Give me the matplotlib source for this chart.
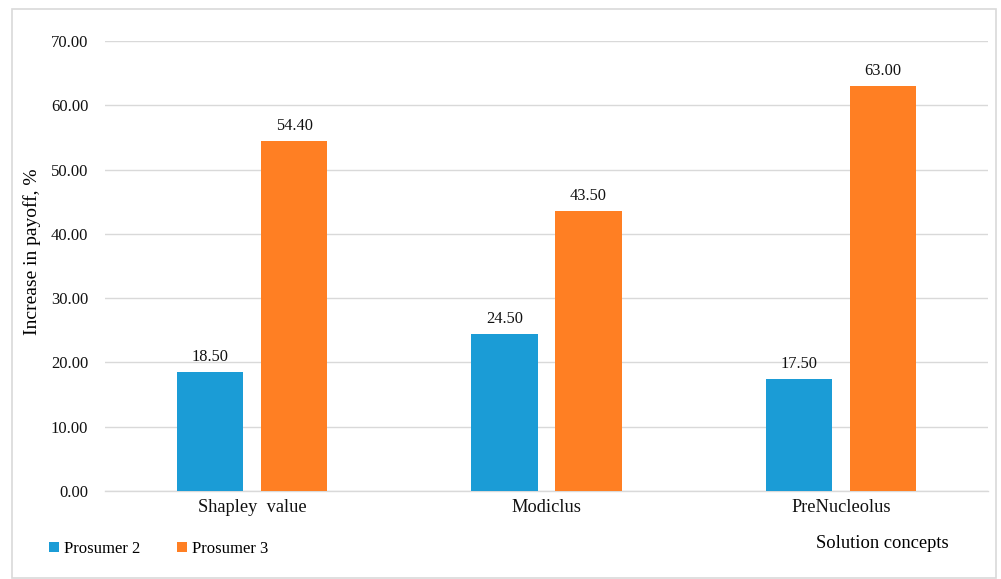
import matplotlib
matplotlib.use("Agg")
import matplotlib.pyplot as plt
import numpy as np
from matplotlib.patches import Rectangle

categories = ["Shapley  value", "Modiclus", "PreNucleolus"]
prosumer2 = [18.50, 24.50, 17.50]
prosumer3 = [54.40, 43.50, 63.00]
series_names = ["Prosumer 2", "Prosumer 3"]
yticks = [0, 10, 20, 30, 40, 50, 60, 70]

plt.rcParams['font.family'] = ['Liberation Serif', 'DejaVu Serif']

fig = plt.figure(figsize=(10.01, 5.79), dpi=100)
fig.patches.append(Rectangle((12/1001, 1/579), 984/1001, 569/579, transform=fig.transFigure,
                             fill=False, edgecolor='#D9D9D9', linewidth=1.2))
ax = fig.add_axes([105/1001, 1-491/579, 883/1001, 450/579])

x = np.arange(len(categories))
w = 0.225
off = 0.143
c2 = '#1B9CD6'
c3 = '#FF7F23'
b2 = ax.bar(x - off, prosumer2, w, color=c2, label=series_names[0], zorder=3)
b3 = ax.bar(x + off, prosumer3, w, color=c3, label=series_names[1], zorder=3)
for bars, vals in ((b2, prosumer2), (b3, prosumer3)):
    for b, v in zip(bars, vals):
        ax.annotate(f"{v:.2f}", (b.get_x() + b.get_width()/2, v), xytext=(0, 5),
                    textcoords='offset points', ha='center', va='bottom', fontsize=11.8, color='#111111')

ax.set_xlim(-0.5, 2.5)
ax.set_ylim(0, 70)
ax.set_yticks(yticks)
ax.set_yticklabels([f"{t:.2f}" for t in yticks], fontsize=12)
ax.set_xticks(x)
ax.set_xticklabels(categories, fontsize=13.2)
ax.tick_params(axis='both', length=0, pad=12, colors='#111111')
ax.tick_params(axis='x', pad=6)
ax.grid(axis='y', color='#D9D9D9', linewidth=1, zorder=0)
for s in ['top', 'right', 'left']:
    ax.spines[s].set_visible(False)
ax.spines['bottom'].set_color('#D9D9D9')
ax.spines['bottom'].set_linewidth(1)
ax.set_axisbelow(True)

fig.text(32/1001, 1-252/579, "Increase in payoff, %", rotation=90, ha='center', va='center', fontsize=14)
fig.text(882/1001, 1-543/579, "Solution concepts", ha='center', va='center', fontsize=13.3)

leg = fig.legend(handles=[b2, b3], labels=series_names, loc='center left',
                 bbox_to_anchor=(34/1001, 1-549/579), ncol=2, frameon=False, fontsize=12,
                 handlelength=0.6, handleheight=0.6, handletextpad=0.3, columnspacing=2.2)

fig.savefig("out.png", dpi=100, facecolor='white')
